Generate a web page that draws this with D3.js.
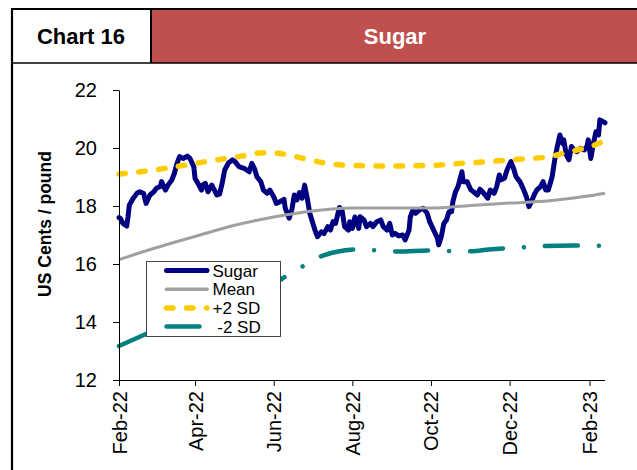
<!DOCTYPE html>
<html>
<head>
<meta charset="utf-8">
<script src="https://cdn.jsdelivr.net/npm/d3@7"></script>
<style>
  body { margin: 0; background: #fff; }
  svg { display: block; font-family: "Liberation Sans", Arial, sans-serif; }
</style>
</head>
<body>
<div id="chart"></div>
<script>
// sugar price, US cents / pound
const sugar = [
  ['2022-02-01', 17.60], ['2022-02-02', 17.58], ['2022-02-04', 17.40], ['2022-02-07', 17.31],
  ['2022-02-08', 17.63], ['2022-02-09', 18.03], ['2022-02-12', 18.27], ['2022-02-15', 18.44],
  ['2022-02-17', 18.49], ['2022-02-20', 18.44], ['2022-02-22', 18.09], ['2022-02-25', 18.38],
  ['2022-02-28', 18.49], ['2022-03-02', 18.61], ['2022-03-05', 18.67], ['2022-03-06', 18.84],
  ['2022-03-09', 18.55], ['2022-03-11', 18.72], ['2022-03-14', 18.90], ['2022-03-16', 19.13],
  ['2022-03-18', 19.47], ['2022-03-20', 19.70], ['2022-03-23', 19.64], ['2022-03-26', 19.72],
  ['2022-03-28', 19.64], ['2022-03-31', 19.36], ['2022-04-01', 18.95], ['2022-04-04', 18.72],
  ['2022-04-06', 18.55], ['2022-04-07', 18.72], ['2022-04-09', 18.78], ['2022-04-11', 18.49],
  ['2022-04-14', 18.72], ['2022-04-16', 18.55], ['2022-04-18', 18.38], ['2022-04-20', 18.41],
  ['2022-04-22', 18.78], ['2022-04-24', 19.24], ['2022-04-27', 19.49], ['2022-04-30', 19.59],
  ['2022-05-02', 19.53], ['2022-05-05', 19.36], ['2022-05-09', 19.30], ['2022-05-11', 19.24],
  ['2022-05-13', 19.18], ['2022-05-15', 19.47], ['2022-05-17', 19.30], ['2022-05-19', 19.01],
  ['2022-05-22', 18.84], ['2022-05-24', 18.55], ['2022-05-27', 18.44], ['2022-05-29', 18.55],
  ['2022-06-01', 18.32], ['2022-06-03', 18.09], ['2022-06-06', 18.15], ['2022-06-09', 18.23],
  ['2022-06-10', 17.92], ['2022-06-13', 17.58], ['2022-06-15', 17.86], ['2022-06-17', 18.38],
  ['2022-06-19', 18.21], ['2022-06-21', 18.46], ['2022-06-23', 18.27], ['2022-06-25', 18.72],
  ['2022-06-27', 18.27], ['2022-06-29', 17.75], ['2022-07-01', 17.46], ['2022-07-03', 17.17],
  ['2022-07-05', 16.94], ['2022-07-08', 17.11], ['2022-07-10', 17.05], ['2022-07-13', 17.29],
  ['2022-07-15', 17.17], ['2022-07-17', 17.46], ['2022-07-19', 17.40], ['2022-07-22', 17.95],
  ['2022-07-24', 17.86], ['2022-07-26', 17.29], ['2022-07-29', 17.17], ['2022-07-30', 17.46],
  ['2022-08-01', 17.23], ['2022-08-03', 17.62], ['2022-08-06', 17.23], ['2022-08-07', 17.63],
  ['2022-08-10', 17.52], ['2022-08-12', 17.29], ['2022-08-15', 17.40], ['2022-08-17', 17.29],
  ['2022-08-20', 17.46], ['2022-08-23', 17.52], ['2022-08-25', 17.29], ['2022-08-28', 17.17],
  ['2022-08-30', 17.40], ['2022-09-01', 17.00], ['2022-09-03', 17.06], ['2022-09-06', 16.97],
  ['2022-09-09', 17.00], ['2022-09-11', 16.83], ['2022-09-14', 17.17], ['2022-09-15', 17.63],
  ['2022-09-17', 17.86], ['2022-09-19', 17.75], ['2022-09-22', 17.86], ['2022-09-25', 17.92],
  ['2022-09-28', 17.75], ['2022-09-30', 17.46], ['2022-10-03', 17.17], ['2022-10-06', 16.89],
  ['2022-10-07', 16.66], ['2022-10-09', 16.94], ['2022-10-11', 17.40], ['2022-10-13', 17.52],
  ['2022-10-15', 17.80], ['2022-10-17', 17.80], ['2022-10-18', 18.15], ['2022-10-20', 18.49],
  ['2022-10-22', 18.67], ['2022-10-25', 19.18], ['2022-10-26', 18.84], ['2022-10-29', 18.84],
  ['2022-11-01', 18.55], ['2022-11-03', 18.49], ['2022-11-06', 18.38], ['2022-11-08', 18.58],
  ['2022-11-11', 18.44], ['2022-11-14', 18.27], ['2022-11-16', 18.55], ['2022-11-19', 18.44],
  ['2022-11-21', 18.67], ['2022-11-23', 19.07], ['2022-11-24', 18.90], ['2022-11-27', 18.96],
  ['2022-11-29', 19.24], ['2022-12-02', 19.53], ['2022-12-04', 19.30], ['2022-12-06', 19.01],
  ['2022-12-09', 18.84], ['2022-12-12', 18.55], ['2022-12-14', 18.32], ['2022-12-16', 17.98],
  ['2022-12-18', 18.15], ['2022-12-20', 18.38], ['2022-12-22', 18.55], ['2022-12-25', 18.67],
  ['2022-12-27', 18.84], ['2022-12-29', 18.55], ['2022-12-31', 18.55], ['2023-01-03', 19.01],
  ['2023-01-05', 19.59], ['2023-01-07', 20.05], ['2023-01-09', 20.45], ['2023-01-11', 20.16],
  ['2023-01-12', 20.28], ['2023-01-14', 19.76], ['2023-01-16', 19.59], ['2023-01-18', 20.05],
  ['2023-01-20', 19.93], ['2023-01-22', 19.87], ['2023-01-25', 19.99], ['2023-01-28', 19.93],
  ['2023-01-30', 20.05], ['2023-01-31', 20.28], ['2023-02-02', 19.64], ['2023-02-04', 20.16],
  ['2023-02-06', 20.56], ['2023-02-08', 20.45], ['2023-02-09', 20.97], ['2023-02-13', 20.87],
]

const mean = [
  ['2022-02-01', 16.15], ['2022-03-01', 16.55], ['2022-04-01', 16.95], ['2022-05-01', 17.33],
  ['2022-06-01', 17.62], ['2022-07-01', 17.83], ['2022-08-01', 17.93], ['2022-09-01', 17.93],
  ['2022-10-01', 17.93], ['2022-11-01', 18.02], ['2022-12-01', 18.10], ['2023-01-01', 18.18],
  ['2023-02-01', 18.35], ['2023-02-13', 18.44],
]

const plus2sd = [
  ['2022-02-01', 19.10], ['2022-02-25', 19.22], ['2022-03-20', 19.38], ['2022-04-15', 19.57],
  ['2022-05-10', 19.74], ['2022-05-25', 19.84], ['2022-06-10', 19.78], ['2022-06-25', 19.63],
  ['2022-07-12', 19.47], ['2022-08-01', 19.40], ['2022-09-01', 19.38], ['2022-10-01', 19.40],
  ['2022-10-25', 19.47], ['2022-11-15', 19.53], ['2022-12-10', 19.62], ['2023-01-01', 19.70],
  ['2023-01-12', 19.82], ['2023-01-25', 19.96], ['2023-02-05', 20.10], ['2023-02-13', 20.27],
]

const minus2sd = [
  ['2022-02-01', 13.17], ['2022-02-21', 13.57], ['2022-03-15', 14.00], ['2022-04-15', 14.60],
  ['2022-05-15', 15.10], ['2022-06-06', 15.45], ['2022-06-12', 15.62], ['2022-06-24', 15.93],
  ['2022-07-07', 16.25], ['2022-07-20', 16.42], ['2022-08-04', 16.50], ['2022-08-20', 16.47],
  ['2022-09-06', 16.43], ['2022-09-30', 16.47], ['2022-10-20', 16.44], ['2022-11-01', 16.44],
  ['2022-11-15', 16.50], ['2022-11-28', 16.54], ['2022-12-08', 16.56], ['2022-12-25', 16.62],
  ['2023-01-20', 16.64], ['2023-02-13', 16.63],
]

const yTicks = [12, 14, 16, 18, 20, 22]
const xTicks = ['2022-02-01', '2022-04-01', '2022-06-01', '2022-08-01', '2022-10-01', '2022-12-01', '2023-02-01']
const legendLabels = ['Sugar', 'Mean', '+2 SD', ' -2 SD']

const width = 637
const height = 470
const parse = d3.timeParse('%Y-%m-%d')

const svg = d3.select('#chart').append('svg')
  .attr('width', width)
  .attr('height', height)

// header
svg.append('rect').attr('x', 151).attr('y', 10).attr('width', width - 151).attr('height', 53).attr('fill', '#C0504D')
svg.append('line').attr('x1', 11).attr('x2', width).attr('y1', 9).attr('y2', 9).attr('stroke', '#000').attr('stroke-width', 2.2)
svg.append('line').attr('x1', 12).attr('x2', width).attr('y1', 63).attr('y2', 63).attr('stroke', '#000').attr('stroke-width', 1.6)
svg.append('line').attr('x1', 12).attr('x2', 12).attr('y1', 8).attr('y2', height).attr('stroke', '#000').attr('stroke-width', 2.2)
svg.append('line').attr('x1', 151).attr('x2', 151).attr('y1', 9).attr('y2', 63).attr('stroke', '#000').attr('stroke-width', 2)
svg.append('text').attr('x', 81).attr('y', 44).attr('text-anchor', 'middle')
  .style('font-size', '22px').style('font-weight', 'bold').attr('fill', '#000').text('Chart 16')
svg.append('text').attr('x', 395).attr('y', 44).attr('text-anchor', 'middle')
  .style('font-size', '22px').style('font-weight', 'bold').attr('fill', '#fff').text('Sugar')

const x = d3.scaleTime().domain([parse('2022-02-01'), parse('2023-02-13')]).range([119, 605])
const y = d3.scaleLinear().domain([12, 22]).range([380, 90])

const line = d3.line().x((d) => x(parse(d[0]))).y((d) => y(d[1]))
const smooth = d3.line().x((d) => x(parse(d[0]))).y((d) => y(d[1])).curve(d3.curveMonotoneX)

// shift a dash pattern so that a dash begins where the path reaches targetX
const alignDash = (path, targetX, period) => {
  const node = path.node()
  let lo = 0
  let hi = node.getTotalLength()
  for (let i = 0; i < 40; i++) {
    const m = (lo + hi) / 2
    if (node.getPointAtLength(m).x < targetX) lo = m
    else hi = m
  }
  path.attr('stroke-dashoffset', (period - (lo % period)) % period)
}

const plot = svg.append('g')

plot.append('path').datum(sugar).attr('d', line)
  .attr('fill', 'none').attr('stroke', '#000080').attr('stroke-width', 5)
  .attr('stroke-linejoin', 'round').attr('stroke-linecap', 'round')

plot.append('path').datum(mean).attr('d', smooth)
  .attr('fill', 'none').attr('stroke', '#A0A0A0').attr('stroke-width', 3)

const plusPath = plot.append('path').datum(plus2sd).attr('d', smooth)
  .attr('fill', 'none').attr('stroke', '#FFCC00').attr('stroke-width', 5.5)
  .attr('stroke-linecap', 'round').attr('stroke-dasharray', '6.5 13.5')
alignDash(plusPath, 376, 20)

const minusPath = plot.append('path').datum(minus2sd).attr('d', smooth)
  .attr('fill', 'none').attr('stroke', '#008080').attr('stroke-width', 4.5)
  .attr('stroke-linecap', 'round').attr('stroke-dasharray', '33 21 0.01 21')
alignDash(minusPath, 395, 75)

// axes
const yAxis = svg.append('g')
  .attr('transform', 'translate(119,0)')
  .call(d3.axisLeft(y).tickValues(yTicks).tickSize(6).tickSizeOuter(0).tickPadding(16).tickFormat(d3.format('d')))
yAxis.selectAll('text').style('font-size', '20px').attr('fill', '#000')

const xAxis = svg.append('g')
  .attr('transform', 'translate(0,380)')
  .call(d3.axisBottom(x).tickValues(xTicks.map(parse)).tickSize(6).tickSizeOuter(0).tickFormat(d3.timeFormat('%b-%y')))
xAxis.selectAll('text')
  .style('font-size', '20px').attr('fill', '#000')
  .attr('transform', 'rotate(-90)')
  .attr('text-anchor', 'end')
  .attr('x', -11).attr('y', 0).attr('dy', '0.35em')
xAxis.select('.domain').attr('d', 'M113,0.5H605')
svg.selectAll('.domain, .tick line').attr('stroke', '#000')

svg.append('text')
  .attr('transform', 'translate(51,224) rotate(-90)')
  .attr('text-anchor', 'middle')
  .style('font-size', '17.5px').style('font-weight', 'bold')
  .text('US Cents / pound')

// legend
const legend = svg.append('g')
legend.append('rect').attr('x', 146.5).attr('y', 261.5).attr('width', 134).attr('height', 75)
  .attr('fill', '#fff').attr('stroke', '#444').attr('stroke-width', 1)

const legendStyles = [
  { color: '#000080', w: 5, dash: null },
  { color: '#A0A0A0', w: 3.5, dash: null },
  { color: '#FFCC00', w: 5.5, dash: '6.5 13.5' },
  { color: '#008080', w: 4.5, dash: '33 21 0.01 21' },
]
legendLabels.forEach((label, i) => {
  const cy = 270.5 + i * 18.7
  const s = legendStyles[i]
  legend.append('line').attr('x1', 166.5).attr('x2', 207).attr('y1', cy).attr('y2', cy)
    .attr('stroke', s.color).attr('stroke-width', s.w).attr('stroke-linecap', 'round')
    .attr('stroke-dasharray', s.dash)
  legend.append('text').attr('x', 212.5).attr('y', cy).attr('dy', '0.36em')
    .style('font-size', '17px').style('white-space', 'pre').text(label)
})
</script>
</body>
</html>
